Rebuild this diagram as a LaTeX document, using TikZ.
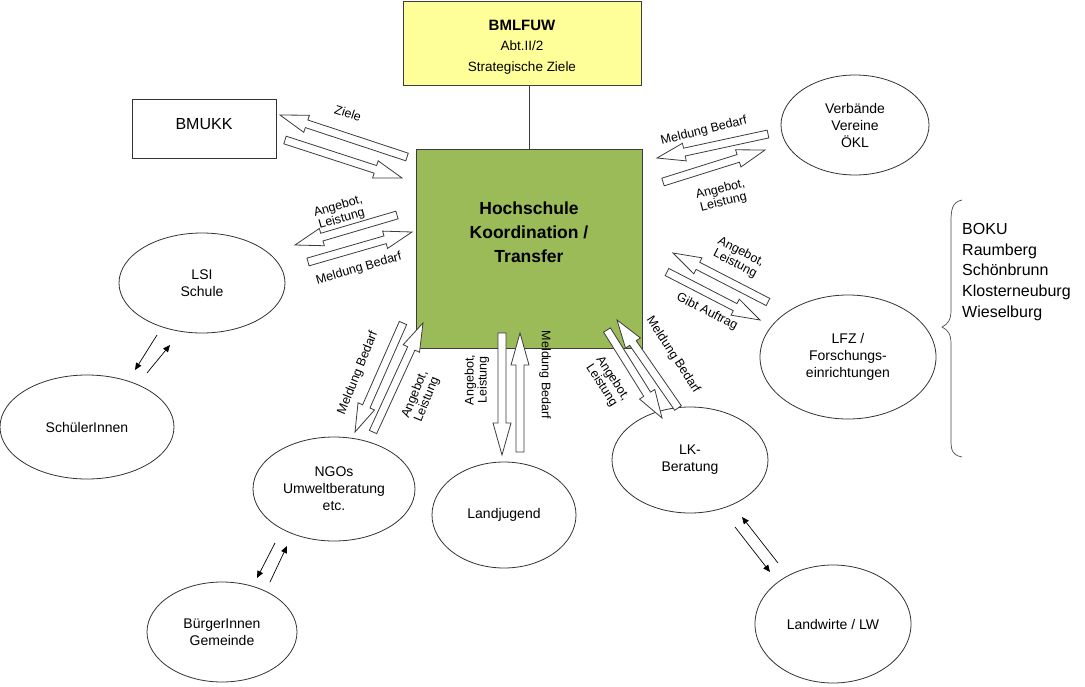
\documentclass[tikz,border=0pt]{standalone}
\usepackage{fontspec}
\setmainfont{Liberation Sans}
\usetikzlibrary{calc,arrows.meta,shapes.geometric}
\definecolor{hsgreen}{RGB}{155,187,89}
\definecolor{boxyellow}{RGB}{255,255,153}
\definecolor{edgegray}{RGB}{60,60,60}
\newcommand{\blockarr}[3][28pt]{%
  \coordinate (bah) at ($(#3)!#1!(#2)$);
  \draw[blockarrow] ($(#2)!4pt!90:(#3)$) -- ($(bah)!4pt!90:(#3)$) -- ($(bah)!9pt!90:(#3)$) -- (#3)
    -- ($(bah)!9pt!-90:(#3)$) -- ($(bah)!4pt!-90:(#3)$) -- ($(#2)!4pt!-90:(#3)$) -- cycle;}
\tikzset{
  blockarrow/.style={draw=edgegray,fill=white,line width=0.8pt,line join=miter},
  oval/.style={draw=black!80,ellipse,line width=0.8pt,inner sep=0pt,align=center,font=\fontsize{14}{17}\selectfont},
  lbl/.style={font=\fontsize{12.5}{13}\selectfont,align=center,inner sep=0pt},
  thin/.style={line width=0.7pt,-{Triangle[length=7pt,width=6pt]}},
}
\begin{document}
\begin{tikzpicture}[x=1pt,y=-1pt]
\useasboundingbox (0,0) rectangle (1085,686);
\fill[white] (0,0) rectangle (1085,686);
% boxes
\node[draw=edgegray,fill=boxyellow,line width=0.8pt,minimum width=238pt,minimum height=84pt,inner sep=0pt] (bmlfuw) at (522,43) {};
\node[align=center,inner sep=0pt,font=\fontsize{13.5}{20.5}\selectfont] (bmlfuwtext) at (522,47) {\fontsize{15}{20.5}\selectfont\bfseries BMLFUW\\Abt.II/2\\Strategische Ziele};
\node[draw=edgegray,fill=hsgreen,line width=0.8pt,minimum width=226pt,minimum height=199pt,inner sep=0pt] (hs) at (529,248.5) {};
\node[align=center,inner sep=0pt,font=\fontsize{17.5}{24}\selectfont\bfseries] (hstext) at (529,232) {Hochschule\\Koordination /\\Transfer};
\draw[line width=0.8pt,edgegray] (hs.north) -- (hs.north |- bmlfuw.south);
\node[draw=black!80,line width=0.8pt,minimum width=144pt,minimum height=59pt,inner sep=0pt] (bmukk) at (204,129) {};
\node[inner sep=0pt,font=\fontsize{16}{18}\selectfont] (bmukktext) at (204,124) {BMUKK};
% ellipses
\node[oval,minimum width=148pt,minimum height=100pt] (verb) at (855,125) {Verbände\\Vereine\\ÖKL};
\node[oval,minimum width=166pt,minimum height=100pt] (lsi) at (202,283) {LSI\\Schule};
\node[oval,minimum width=174pt,minimum height=104pt] (schueler) at (87,427) {SchülerInnen};
\node[oval,minimum width=162pt,minimum height=104pt] (ngo) at (334,489) {NGOs\\Umweltberatung\\etc.};
\node[oval,minimum width=150pt,minimum height=100pt] (buerger) at (222,632) {BürgerInnen\\Gemeinde};
\node[oval,minimum width=144pt,minimum height=106pt] (landj) at (504,515) {Landjugend};
\node[oval,minimum width=156pt,minimum height=106pt] (lk) at (690,460) {LK-\\Beratung};
\node[oval,minimum width=156pt,minimum height=118pt] (landw) at (833,624) {Landwirte / LW};
\node[oval,minimum width=176pt,minimum height=124pt] (lfz) at (848,357) {LFZ /\\Forschungs-\\einrichtungen};
% brace
\draw[line width=0.7pt,black!70] (962,200) .. controls (952,202) and (951,210) .. (951,222) -- (951,310) .. controls (951,320) and (948,324) .. (942,327) .. controls (948,330) and (951,334) .. (951,344) -- (951,440) .. controls (951,450) and (952,455) .. (962,457);
\node[anchor=west,align=left,inner sep=0pt,font=\fontsize{16}{20.7}\selectfont] (boku) at (962,272) {BOKU\\Raumberg\\Schönbrunn\\Klosterneuburg\\Wieselburg};
% block arrow endpoints
\coordinate (a1t) at (407,157); \coordinate (a1h) at (280,115);
\coordinate (b1t) at (285,140); \coordinate (b1h) at (402,178);
\coordinate (a2t) at (397,215); \coordinate (a2h) at (295,245);
\coordinate (b2t) at (308,262); \coordinate (b2h) at (412,232);
\coordinate (a3t) at (768,134); \coordinate (a3h) at (657,158);
\coordinate (b3t) at (663,182); \coordinate (b3h) at (765,150);
\coordinate (a4t) at (768,302); \coordinate (a4h) at (673,253);
\coordinate (b4t) at (667,272); \coordinate (b4h) at (760,320);
\coordinate (a5t) at (403,323); \coordinate (a5h) at (355,432);
\coordinate (b5t) at (373,432); \coordinate (b5h) at (423,323);
\coordinate (a6t) at (502,333); \coordinate (a6h) at (502,455);
\coordinate (b6t) at (520,452); \coordinate (b6h) at (520,333);
\coordinate (a7t) at (607,330); \coordinate (a7h) at (662,418);
\coordinate (b7t) at (678,408); \coordinate (b7h) at (617,320);
\blockarr{a1t}{a1h}\blockarr{b1t}{b1h}
\blockarr{a2t}{a2h}\blockarr{b2t}{b2h}
\blockarr{a3t}{a3h}\blockarr{b3t}{b3h}
\blockarr{a4t}{a4h}\blockarr{b4t}{b4h}
\blockarr{a5t}{a5h}\blockarr{b5t}{b5h}
\blockarr[32pt]{a6t}{a6h}\blockarr[32pt]{b6t}{b6h}
\blockarr{a7t}{a7h}\blockarr{b7t}{b7h}
% labels
\node[lbl,rotate=-18] (l1) at (348,113) {Ziele};
\node[lbl,rotate=16] (l2a) at (340,213) {Angebot,\\Leistung};
\node[lbl,rotate=16] (l2b) at (359,269) {Meldung Bedarf};
\node[lbl,rotate=14] (l3a) at (704,131) {Meldung Bedarf};
\node[lbl,rotate=14] (l3b) at (722,196) {Angebot,\\Leistung};
\node[lbl,rotate=-27] (l4a) at (738,258) {Angebot,\\Leistung};
\node[lbl,rotate=-27] (l4b) at (707,312) {Gibt Auftrag};
\node[lbl,rotate=68] (l5a) at (358,373) {Meldung Bedarf};
\node[lbl,rotate=68] (l5b) at (421,397) {Angebot,\\Leistung};
\node[lbl,rotate=90] (l6a) at (477,380) {Angebot,\\Leistung};
\node[lbl,rotate=-90] (l6b) at (545,375) {Meldung Bedarf};
\node[lbl,rotate=-57] (l7a) at (673,355) {Meldung Bedarf};
\node[lbl,rotate=-57] (l7b) at (607,382) {Angebot,\\Leistung};
% thin arrows
\coordinate (s1a) at (157,335); \coordinate (s1b) at (135,370);
\coordinate (s2a) at (147,373); \coordinate (s2b) at (170,345);
\coordinate (n1a) at (275,543); \coordinate (n1b) at (257,578);
\coordinate (n2a) at (270,582); \coordinate (n2b) at (287,546);
\coordinate (k1a) at (735,527); \coordinate (k1b) at (770,572);
\coordinate (k2a) at (778,563); \coordinate (k2b) at (742,517);
\draw[thin] (s1a) -- (s1b);
\draw[thin] (s2a) -- (s2b);
\draw[thin] (n1a) -- (n1b);
\draw[thin] (n2a) -- (n2b);
\draw[thin] (k1a) -- (k1b);
\draw[thin] (k2a) -- (k2b);
\end{tikzpicture}
\end{document}
